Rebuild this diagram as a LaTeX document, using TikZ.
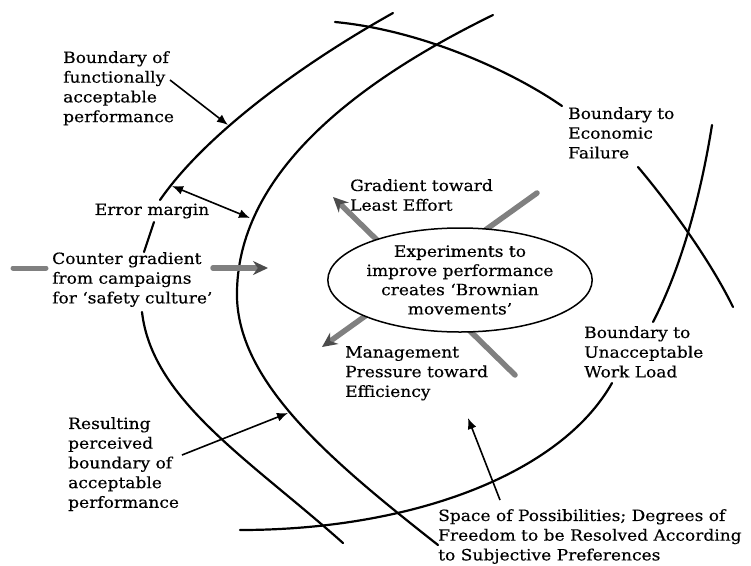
\documentclass[tikz,border=0pt]{standalone}
\usepackage{fontspec}
\setmainfont[FakeStretch=1.1,FakeBold=0.4]{DejaVu Serif}
\usetikzlibrary{arrows.meta,shapes.geometric}
\begin{document}
\begin{tikzpicture}[x=1pt,y=-1pt,
  curve/.style={line width=2.2pt, line cap=round},
  lbl/.style={inner sep=0pt, align=left, anchor=north west, font=\fontsize{15.5}{19.7}\selectfont},
  ptr/.style={line width=1.6pt, -{Latex[length=11pt,width=9pt]}},
  dptr/.style={line width=1.6pt, {Latex[length=11pt,width=9pt]}-{Latex[length=11pt,width=9pt]}},
  grad/.style={line width=5.5pt, draw=black!50, line cap=round, -{Stealth[length=15pt,width=14pt,color=black!70]}},
  gradbar/.style={line width=5pt, draw=black!50, line cap=round},
  bubble/.style={ellipse, draw, fill=white, line width=1.5pt, minimum width=260pt, minimum height=104pt, inner sep=0pt, align=center, font=\fontsize{15.5}{19.2}\selectfont}
]
\useasboundingbox (0,0) rectangle (751,565);

% boundary of functionally acceptable performance (outer)
\draw[curve] (393,13) .. controls (300,65) and (205,135) .. (160,200);
\draw[curve] (154,222) -- (144,252);
\draw[curve] (142,312) .. controls (152,400) and (250,460) .. (343,543);

% resulting perceived boundary (inner)
\draw[curve] (493,15) .. controls (360,80) and (240,170) .. (237,290)
                      .. controls (234,380) and (330,460) .. (438,545);

% boundary to economic failure
\draw[curve] (335,22) .. controls (420,30) and (510,70) .. (562,106);
\draw[curve] (638,167) .. controls (670,205) and (710,260) .. (733,307);

% boundary to unacceptable work load
\draw[curve] (240,530) .. controls (410,530) and (560,475) .. (612,383);
\draw[curve] (653,322) .. controls (680,270) and (700,200) .. (712,125);

% labels
\node[lbl] (bfa) at (63,51) {Boundary of\\functionally\\acceptable\\performance};
\node[lbl, anchor=center] (em) at (152,211) {Error margin};
\node[lbl] (cg) at (52,252) {Counter gradient\\from campaigns\\for `safety culture'};
\node[lbl] (rpb) at (68,417) {Resulting\\perceived\\boundary of\\acceptable\\performance};
\node[lbl] (gle) at (350,179) {Gradient toward\\Least Effort};
\node[lbl] (bef) at (568,107) {Boundary to\\Economic\\Failure};
\node[lbl] (mpe) at (345,346) {Management\\Pressure toward\\Efficiency};
\node[lbl] (buw) at (584,326) {Boundary to\\Unacceptable\\Work Load};
\node[lbl] (sop) at (438,509) {Space of Possibilities; Degrees of\\Freedom to be Resolved According\\to Subjective Preferences};

% pointer coordinates
\coordinate (fa0) at (170,80);
\coordinate (fa1) at (228,125);
\coordinate (em0) at (172,186);
\coordinate (em1) at (250,218);
\coordinate (rp0) at (182,455);
\coordinate (rp1) at (288,413);
\coordinate (sp0) at (500,500);
\coordinate (sp1) at (468,418);

\draw[ptr] (fa0) -- (fa1);
\draw[dptr] (em0) -- (em1);
\draw[ptr] (rp0) -- (rp1);
\draw[ptr] (sp0) -- (sp1);

% gradients
\coordinate (cgl0) at (13,268);
\coordinate (cgl1) at (46,268);
\coordinate (cga0) at (213,268);
\coordinate (cga1) at (268,268);
\draw[gradbar] (cgl0) -- (cgl1);
\draw[grad] (cga0) -- (cga1);

\coordinate (le0) at (515,375);
\coordinate (le1) at (333,197);
\coordinate (me0) at (537,193);
\coordinate (me1) at (322,347);
\draw[grad] (le0) -- (le1);
\draw[grad] (me0) -- (me1);

\node[bubble] (exp) at (460,280) {Experiments to\\improve performance\\creates `Brownian\\movements'};
\end{tikzpicture}
\end{document}
